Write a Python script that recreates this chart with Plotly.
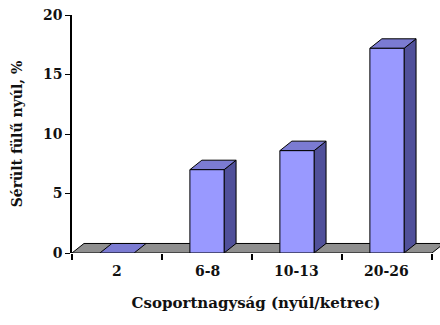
import plotly.graph_objects as go

# Group size categories and share of rabbits with injured ears (%)
categories = ["2", "6-8", "10-13", "20-26"]
values = [0.0, 7.0, 8.6, 17.2]
y_ticks = [0, 5, 10, 15, 20]

# 3D look: bar width and depth offset (in axis units)
BAR_W = 0.38
DX = 0.133
DY = 0.80

FRONT = "#9999FF"
TOP = "#7B7BD2"
SIDE = "#50509A"
FLOOR = "#8F8F8F"
EDGE = "#000000"
SERIF = "DejaVu Serif"

fig = go.Figure()


def poly(xs, ys, color):
    fig.add_trace(go.Scatter(
        x=xs + [xs[0]], y=ys + [ys[0]], mode="lines", fill="toself",
        fillcolor=color, line=dict(color=EDGE, width=1),
        hoverinfo="skip", showlegend=False,
    ))


# floor slab
x_lo, x_hi = -0.5, len(categories) - 0.5
poly([x_lo, x_hi, x_hi + DX, x_lo + DX], [0, 0, DY, DY], FLOOR)

# columns: side, top, front faces
for i, v in enumerate(values):
    x0, x1 = i - BAR_W / 2, i + BAR_W / 2
    if v > 0:
        poly([x1, x1 + DX, x1 + DX, x1], [0, DY, v + DY, v], SIDE)
    poly([x0, x1, x1 + DX, x0 + DX], [v, v, v + DY, v + DY], TOP)
    if v > 0:
        poly([x0, x1, x1, x0], [0, 0, v, v], FRONT)

# category labels centred under each group
for i, c in enumerate(categories):
    fig.add_annotation(x=i, y=0, xref="x", yref="paper", text=f"<b>{c}</b>",
                       showarrow=False, yanchor="top", yshift=-8,
                       font=dict(family=SERIF, size=14))

fig.update_layout(
    width=440, height=325,
    margin=dict(l=72, r=0, t=15, b=72),
    paper_bgcolor="white", plot_bgcolor="white",
    font=dict(family=SERIF, color="#111111"),
    xaxis=dict(
        range=[-0.5, 3.589],
        tickvals=[k - 0.5 for k in range(len(categories) + 1)],
        ticktext=[" "] * (len(categories) + 1),
        ticks="outside", ticklen=6, tickcolor=EDGE, tickwidth=1.5,
        showgrid=False, zeroline=False, showline=False,
        title=dict(text="<b>Csoportnagyság (nyúl/ketrec)</b>",
                   font=dict(family=SERIF, size=15), standoff=21),
    ),
    yaxis=dict(
        range=[0, 20], tickvals=y_ticks,
        ticktext=[f"<b>{t}</b>" for t in y_ticks],
        ticks="outside", ticklen=5, tickcolor=EDGE, tickwidth=1,
        showline=True, linecolor=EDGE, linewidth=1.5,
        showgrid=False, zeroline=False,
        tickfont=dict(family=SERIF, size=14), ticklabelstandoff=0,
        title=dict(text="<b>Sérült fülű nyúl, %</b>",
                   font=dict(family=SERIF, size=14), standoff=17),
    ),
)

fig.write_html("out.html")
